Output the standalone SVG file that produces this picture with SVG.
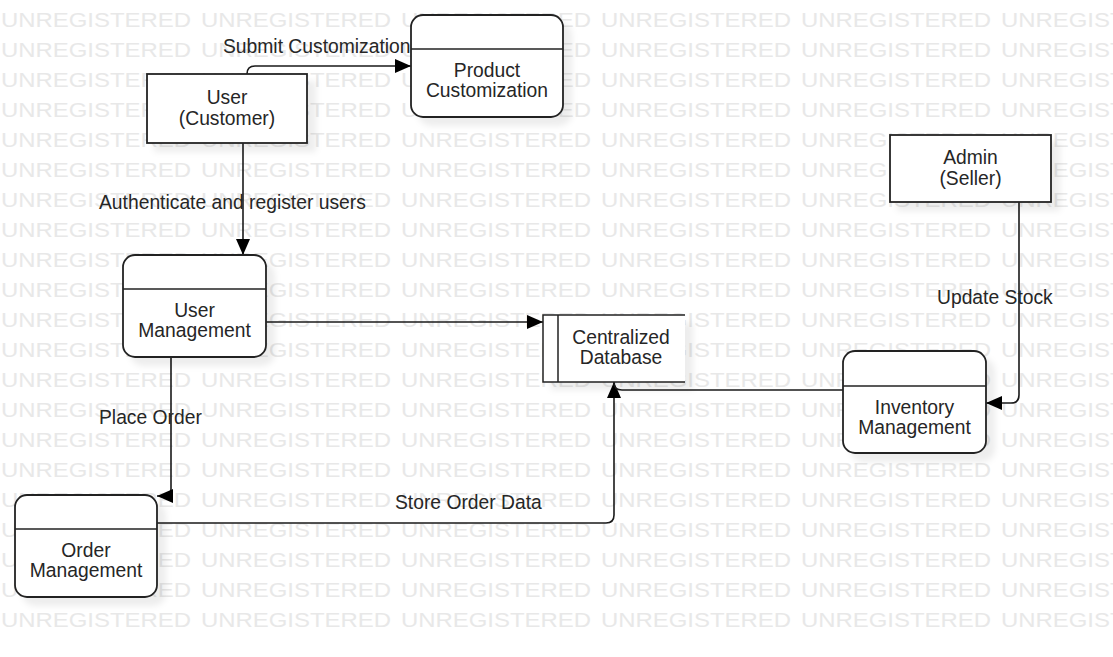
<svg xmlns="http://www.w3.org/2000/svg" xmlns:xlink="http://www.w3.org/1999/xlink" width="1113" height="657" viewBox="0 0 1113 657">
<style>
.wm{font-family:"Liberation Sans",Arial,sans-serif;font-size:19.5px;fill:#e8e8e8}
.box{fill:#fff;stroke:#222;stroke-width:1.8}
.div{stroke:#222;stroke-width:1.5;fill:none}
.t{font-family:"Liberation Sans",Arial,sans-serif;font-size:19.3px;fill:#262626;text-anchor:middle}
.lbl{font-family:"Liberation Sans",Arial,sans-serif;font-size:19.3px;fill:#262626}
.c{fill:none;stroke:#1a1a1a;stroke-width:1.6}
</style>
<defs>
<marker id="arr" markerUnits="userSpaceOnUse" markerWidth="16" markerHeight="14" refX="16" refY="7" orient="auto" viewBox="0 0 16 14">
<path d="M0,0 L16,7 L0,14 z" fill="#000"/>
</marker>
<filter id="sh" x="-20%" y="-20%" width="150%" height="150%">
<feDropShadow dx="8" dy="8" stdDeviation="3" flood-color="#000" flood-opacity="0.07"/>
</filter>
<g id="wmrow">
<text class="wm" x="1" textLength="190" lengthAdjust="spacingAndGlyphs">UNREGISTERED</text>
<text class="wm" x="201" textLength="190" lengthAdjust="spacingAndGlyphs">UNREGISTERED</text>
<text class="wm" x="401" textLength="190" lengthAdjust="spacingAndGlyphs">UNREGISTERED</text>
<text class="wm" x="601" textLength="190" lengthAdjust="spacingAndGlyphs">UNREGISTERED</text>
<text class="wm" x="801" textLength="190" lengthAdjust="spacingAndGlyphs">UNREGISTERED</text>
<text class="wm" x="1001" textLength="190" lengthAdjust="spacingAndGlyphs">UNREGISTERED</text>
</g>
</defs>
<rect width="1113" height="657" fill="#fff"/>
<g id="watermark">
<use xlink:href="#wmrow" y="27"/><use xlink:href="#wmrow" y="57"/><use xlink:href="#wmrow" y="87"/>
<use xlink:href="#wmrow" y="117"/><use xlink:href="#wmrow" y="147"/><use xlink:href="#wmrow" y="177"/>
<use xlink:href="#wmrow" y="207"/><use xlink:href="#wmrow" y="237"/><use xlink:href="#wmrow" y="267"/>
<use xlink:href="#wmrow" y="297"/><use xlink:href="#wmrow" y="327"/><use xlink:href="#wmrow" y="357"/>
<use xlink:href="#wmrow" y="387"/><use xlink:href="#wmrow" y="417"/><use xlink:href="#wmrow" y="447"/>
<use xlink:href="#wmrow" y="477"/><use xlink:href="#wmrow" y="507"/><use xlink:href="#wmrow" y="537"/>
<use xlink:href="#wmrow" y="567"/><use xlink:href="#wmrow" y="597"/><use xlink:href="#wmrow" y="627"/>
</g>

<g id="connectors">
<path class="c" d="M247 74 Q247 66 255 66 H411" marker-end="url(#arr)"/>
<text class="lbl" x="223" y="53">Submit Customization</text>
<path class="c" d="M243 143 V255" marker-end="url(#arr)"/>
<text class="lbl" x="99" y="209">Authenticate and register users</text>
<path class="c" d="M266 322 H543" marker-end="url(#arr)"/>
<path class="c" d="M171 357 V489 Q171 496 164 496 H157" marker-end="url(#arr)"/>
<text class="lbl" x="99" y="424">Place Order</text>
<path class="c" d="M157 523 H606 Q614 523 614 515 V382" marker-end="url(#arr)"/>
<text class="lbl" x="395" y="509">Store Order Data</text>
<path class="c" d="M843 390 H622 Q614 390 614 383"/>
<path class="c" d="M1019 202 V395 Q1019 403 1011 403 H986" marker-end="url(#arr)"/>
<text class="lbl" x="937" y="304">Update Stock</text>
</g>

<g id="user">
<rect class="box" x="147" y="74" width="160" height="69" filter="url(#sh)"/>
<text class="t" x="227" y="104">User</text>
<text class="t" x="227" y="125">(Customer)</text>
</g>

<g id="product-customization">
<rect class="box" x="411" y="15" width="152" height="102" rx="12" filter="url(#sh)"/>
<line class="div" x1="411" y1="49" x2="563" y2="49"/>
<text class="t" x="487" y="77">Product</text>
<text class="t" x="487" y="97">Customization</text>
</g>

<g id="user-management">
<rect class="box" x="123" y="255" width="143" height="102" rx="12" filter="url(#sh)"/>
<line class="div" x1="123" y1="289" x2="266" y2="289"/>
<text class="t" x="194.5" y="317">User</text>
<text class="t" x="194.5" y="337">Management</text>
</g>

<g id="centralized-database">
<rect x="543" y="315" width="142" height="67" fill="#fff" filter="url(#sh)"/>
<path class="div" d="M685 315 H543 V382 H685 M558 315 V382"/>
<text class="t" x="621" y="344">Centralized</text>
<text class="t" x="621" y="364">Database</text>
</g>

<g id="admin">
<rect class="box" x="890" y="135" width="161" height="67" filter="url(#sh)"/>
<text class="t" x="970.5" y="164">Admin</text>
<text class="t" x="970.5" y="185">(Seller)</text>
</g>

<g id="inventory-management">
<rect class="box" x="843" y="351" width="143" height="102" rx="12" filter="url(#sh)"/>
<line class="div" x1="843" y1="386" x2="986" y2="386"/>
<text class="t" x="914.5" y="414">Inventory</text>
<text class="t" x="914.5" y="434">Management</text>
</g>

<g id="order-management">
<rect class="box" x="15" y="495" width="142" height="102" rx="12" filter="url(#sh)"/>
<line class="div" x1="15" y1="529" x2="157" y2="529"/>
<text class="t" x="86" y="557">Order</text>
<text class="t" x="86" y="577">Management</text>
</g>
</svg>
